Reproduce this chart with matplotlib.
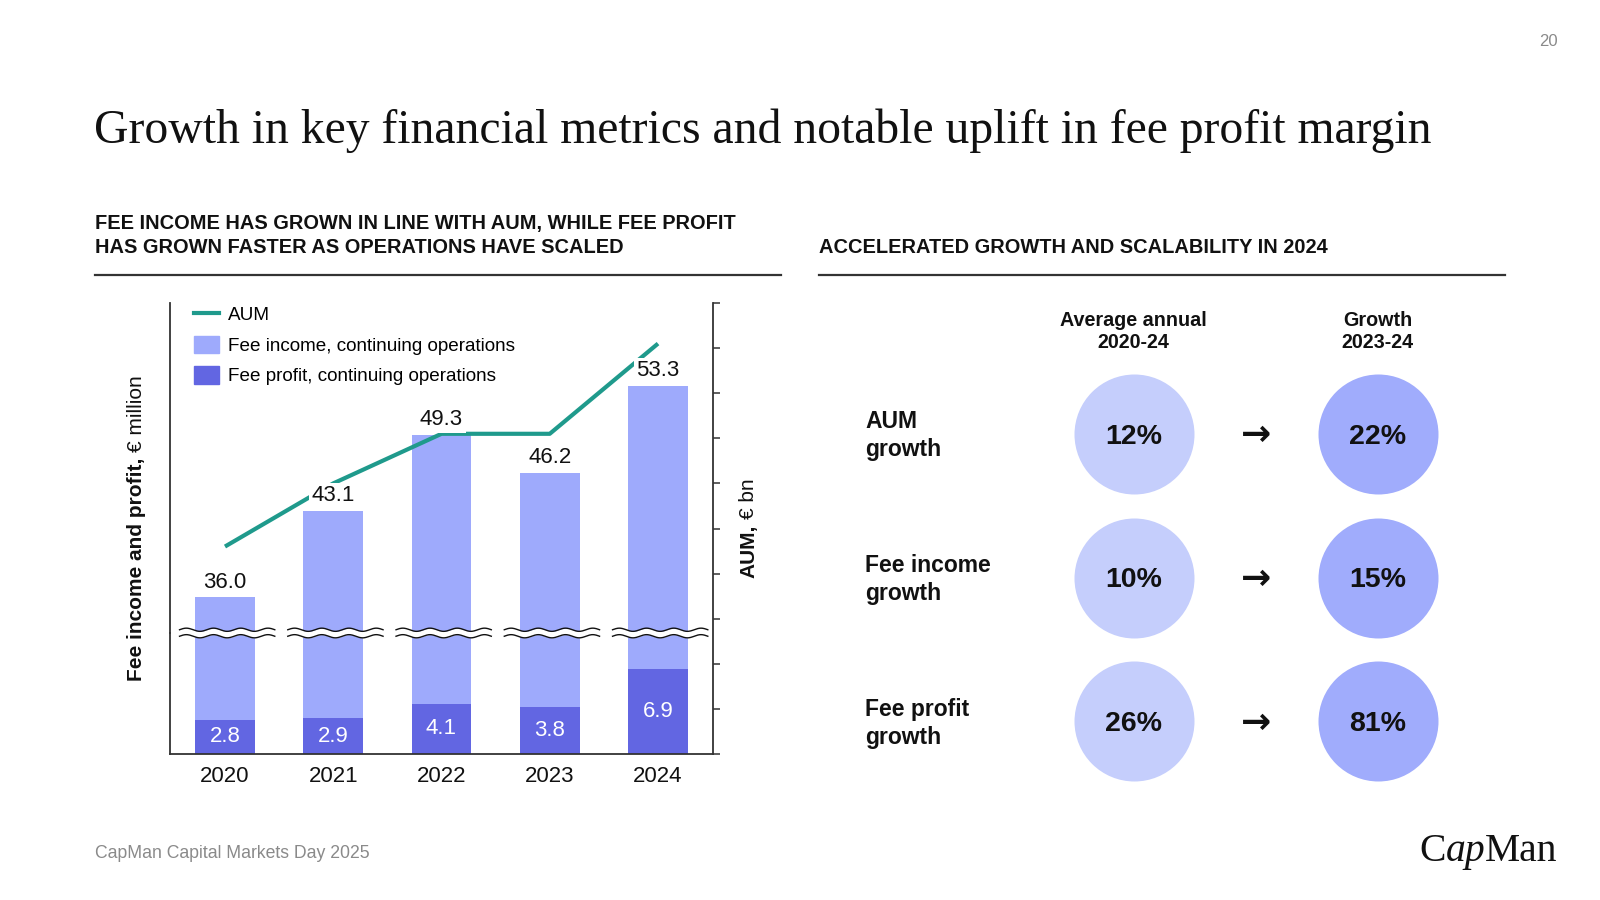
import numpy as np
import matplotlib
matplotlib.use("Agg")
import matplotlib.pyplot as plt
from matplotlib.lines import Line2D
from matplotlib.patches import Patch

# data
years = ["2020", "2021", "2022", "2023", "2024"]
fee_income = [36.0, 43.1, 49.3, 46.2, 53.3]
fee_profit = [2.8, 2.9, 4.1, 3.8, 6.9]
aum_bn = [3.3, 4.0, 4.55, 4.55, 5.55]   # no tick labels on the AUM axis, read by position

row_labels = ["AUM\ngrowth", "Fee income\ngrowth", "Fee profit\ngrowth"]
col_labels = ["Average annual\n2020-24", "Growth\n2023-24"]
growth_avg = ["12%", "10%", "26%"]
growth_last = ["22%", "15%", "81%"]

legend_labels = ["AUM", "Fee income, continuing operations",
                 "Fee profit, continuing operations"]

TEAL = "#1f9a8c"
LIGHT = "#9eaafc"
DARK = "#6266e2"
CIRCLE_1 = "#c5cefc"
CIRCLE_2 = "#a0acfc"
INK = "#111111"
SPINE = "#333333"
GREY = "#8a8a8a"

SANS = ["Liberation Sans", "DejaVu Sans"]
SERIF = ["Liberation Serif", "DejaVu Serif"]
plt.rcParams["font.family"] = SANS

W, H = 1600, 900
fig = plt.figure(figsize=(16, 9), dpi=100)


def fx(px):
    return px / W


def fy(py):
    return 1 - py / H


# ---- header ----
title = fig.text(fx(94), fy(143), "Growth in key financial metrics and notable uplift in fee profit margin",
                 family=SERIF, fontsize=34, color=INK, va="baseline", ha="left")
r = fig.canvas.get_renderer()
tw = title.get_window_extent(r).width
title.set_fontsize(34 * 1341 / tw)

fig.text(fx(1548), fy(41), "20", color=GREY, fontsize=12, ha="center", va="center")

fig.text(fx(95), fy(229), "FEE INCOME HAS GROWN IN LINE WITH AUM, WHILE FEE PROFIT",
         fontsize=14.4, fontweight="bold", color=INK, va="baseline")
fig.text(fx(95), fy(253), "HAS GROWN FASTER AS OPERATIONS HAVE SCALED",
         fontsize=14.4, fontweight="bold", color=INK, va="baseline")
fig.text(fx(819), fy(253), "ACCELERATED GROWTH AND SCALABILITY IN 2024",
         fontsize=14.4, fontweight="bold", color=INK, va="baseline")
fig.add_artist(Line2D([fx(95), fx(781)], [fy(274.5)] * 2, lw=1.6, color=SPINE))
fig.add_artist(Line2D([fx(819), fx(1505)], [fy(274.5)] * 2, lw=1.6, color=SPINE))

# ---- left chart: broken axis, same px per unit above and below the break ----
left, right, top, base, brk = 170, 713, 303, 754, 633
ppu = 12.25
bot_hi = (base - brk) / ppu
top_lo = 33.1
top_hi = top_lo + (brk - top) / ppu
x = np.arange(len(years))
xlim = (-0.508, len(years) - 1 + 0.508)
bar_w = 0.55

ax_top = fig.add_axes([fx(left), fy(brk), (right - left) / W, (brk - top) / H])
ax_bot = fig.add_axes([fx(left), fy(base), (right - left) / W, (base - brk) / H])
ax_aum = fig.add_axes([fx(left), fy(base), (right - left) / W, (base - top) / H])
ax_top.set_zorder(1)
ax_bot.set_zorder(2)
ax_aum.set_zorder(3)

for ax in (ax_top, ax_bot):
    ax.bar(x, fee_income, width=bar_w, color=LIGHT)
    ax.set_xlim(*xlim)
    ax.patch.set_visible(False)
    ax.tick_params(left=False, labelleft=False, bottom=False, labelbottom=False)
    ax.spines[["top", "right"]].set_visible(False)
    ax.spines["left"].set_color(SPINE)
    ax.spines["left"].set_linewidth(1.3)

ax_top.set_ylim(top_lo, top_hi)
ax_top.spines["bottom"].set_visible(False)

ax_bot.bar(x, fee_profit, width=bar_w, color=DARK)
ax_bot.set_ylim(0, bot_hi)
ax_bot.spines["bottom"].set_color(SPINE)
ax_bot.spines["bottom"].set_linewidth(1.3)
ax_bot.set_xticks(x, years)
ax_bot.tick_params(axis="x", labelbottom=True, labelsize=16, pad=5, colors=INK)

for xi, v in zip(x, fee_profit):
    ax_bot.text(xi, v / 2, f"{v:.1f}", color="white", fontsize=16,
                ha="center", va="center")

# wavy break marks
gap = 6.5 / ppu
amp = 1.6 / ppu
for xi in x:
    xs = np.linspace(xi - 0.42, xi + 0.46, 200)
    wave = amp * np.sin(2 * np.pi * 3.5 * (xs - xs[0]) / (xs[-1] - xs[0]))
    up = bot_hi + gap / 2 + wave
    lo = bot_hi - gap / 2 + wave
    ax_bot.fill_between(xs, lo, up, color="white", lw=0, clip_on=False, zorder=3)
    ax_bot.plot(xs, up, color=INK, lw=1, clip_on=False, zorder=4)
    ax_bot.plot(xs, lo, color=INK, lw=1, clip_on=False, zorder=4)

# AUM on its own right axis over the whole height
ax_aum.patch.set_visible(False)
ax_aum.plot(x, aum_bn, color=TEAL, lw=3, solid_capstyle="butt", zorder=2)
ax_aum.set_xlim(*xlim)
ax_aum.set_ylim(1.0, 6.0)
ax_aum.yaxis.tick_right()
ax_aum.set_yticks(np.arange(1.0, 6.01, 0.5))
ax_aum.tick_params(axis="y", right=True, left=False, labelright=False, labelleft=False,
                   direction="out", length=5, width=1.1, color=SPINE)
ax_aum.tick_params(axis="x", bottom=False, labelbottom=False)
ax_aum.spines[["top", "left", "bottom"]].set_visible(False)
ax_aum.spines["right"].set_color(SPINE)
ax_aum.spines["right"].set_linewidth(1.3)

for xi, v in zip(x, fee_income):
    ax_aum.annotate(f"{v:.1f}", xy=(xi, v), xycoords=ax_top.transData,
                    xytext=(0, 3), textcoords="offset points", ha="center", va="bottom",
                    fontsize=16, color=INK, zorder=5,
                    bbox=dict(boxstyle="square,pad=0.12", fc="white", ec="none"))

handles = [Line2D([], [], color=TEAL, lw=3),
           Patch(color=LIGHT), Patch(color=DARK)]
ax_aum.legend(handles, legend_labels, loc="upper left",
              bbox_to_anchor=(fx(194), fy(305)), bbox_transform=fig.transFigure,
              frameon=False, fontsize=13.6, handlelength=1.3, handleheight=1.05,
              handletextpad=0.5, labelspacing=0.6, borderpad=0, borderaxespad=0)

# axis titles, bold part + regular part
yl1 = fig.text(fx(136), fy(681), "Fee income and profit,", rotation=90, fontsize=15,
               fontweight="bold", color=INK, ha="center", va="bottom")
ax_aum.annotate("€ million", xy=(0.5, 1), xycoords=yl1, xytext=(0, 4), textcoords="offset points",
                rotation=90, fontsize=15, color=INK, ha="center", va="bottom", annotation_clip=False)
yl2 = fig.text(fx(749), fy(578), "AUM,", rotation=90, fontsize=15,
               fontweight="bold", color=INK, ha="center", va="bottom")
ax_aum.annotate("€ bn", xy=(0.5, 1), xycoords=yl2, xytext=(0, 4), textcoords="offset points",
                rotation=90, fontsize=15, color=INK, ha="center", va="bottom", annotation_clip=False)

# ---- right panel ----
rx0, rx1, ry0, ry1 = 1011.75, 1499.55, 361.75, 793.35
row_px = (ry1 - ry0) / 3
ax_r = fig.add_axes([fx(rx0), fy(ry1), (rx1 - rx0) / W, (ry1 - ry0) / H])
ax_r.set_xlim(0, 2)
ax_r.set_ylim(3, 0)
ax_r.axis("off")
rows = np.arange(len(row_labels)) + 0.5
d_pt = 120 * 72 / 100
ax_r.scatter([0.5] * len(rows), rows, s=d_pt ** 2, color=CIRCLE_1, lw=0)
ax_r.scatter([1.5] * len(rows), rows, s=d_pt ** 2, color=CIRCLE_2, lw=0)
for ry, a, b in zip(rows, growth_avg, growth_last):
    ax_r.text(0.5, ry + 0.02, a, fontsize=20.5, fontweight="bold", color=INK, ha="center", va="center")
    ax_r.text(1.5, ry + 0.02, b, fontsize=20.5, fontweight="bold", color=INK, ha="center", va="center")
    ax_r.text(1.0, ry + 0.01, "→", family=["DejaVu Sans"], fontsize=26, fontweight="bold",
              color=INK, ha="center", va="center")
head_y = -(ry0 - 331) / row_px
for cx, lab in zip([0.5, 1.5], col_labels):
    ax_r.text(cx, head_y, lab, fontsize=14.2, fontweight="bold", color=INK,
              ha="center", va="center", linespacing=1.2, clip_on=False)
for ry, lab in zip(rows, row_labels):
    fig.text(fx(865), fy(ry0 + ry * row_px + 2), lab, fontsize=16.5,
             fontweight="bold", color=INK, ha="left", va="center", linespacing=1.3)

# ---- footer ----
fig.text(fx(95), fy(854), "CapMan Capital Markets Day 2025", fontsize=12.7,
         color=GREY, va="center")
c1 = fig.text(fx(1419), fy(861), "C", family=SERIF, fontsize=28.5, color=INK, va="baseline")
c2 = ax_aum.annotate("ap", xy=(1, 0), xycoords=c1, va="bottom", ha="left",
                     family=SERIF, style="italic", fontsize=28.5, color=INK, annotation_clip=False)
ax_aum.annotate("Man", xy=(1, 0), xycoords=c2, va="bottom", ha="left",
                family=SERIF, fontsize=28.5, color=INK, annotation_clip=False)

fig.savefig("out.png", dpi=100, facecolor="white")
